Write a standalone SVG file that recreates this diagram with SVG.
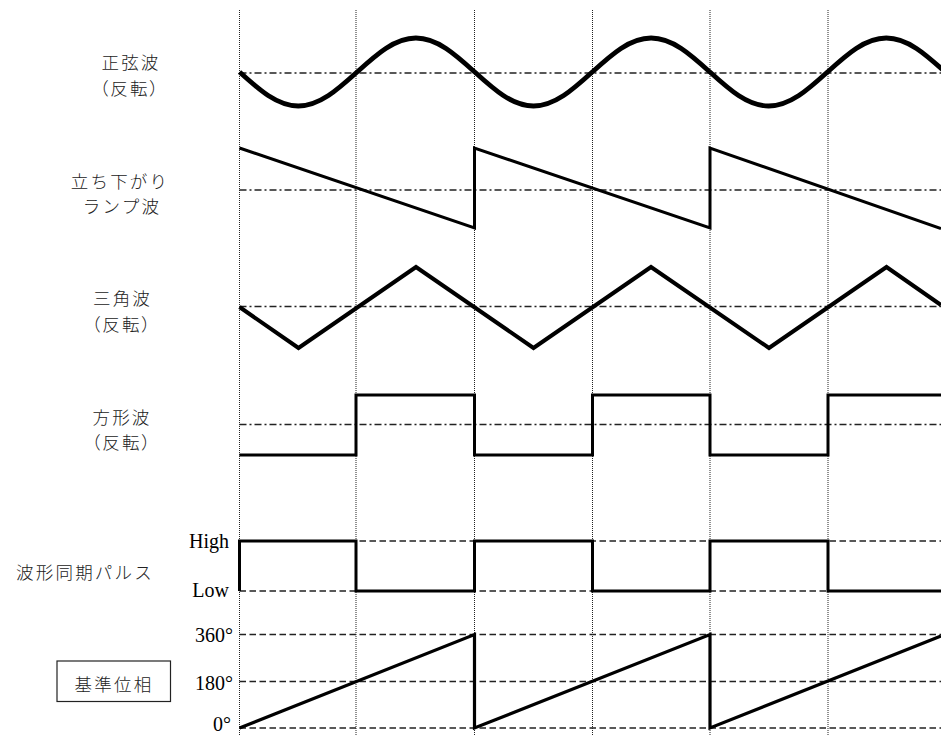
<svg xmlns="http://www.w3.org/2000/svg" width="941" height="735" viewBox="0 0 941 735">
<style>
.bg{fill:#fff}
.vdot{stroke:#222;stroke-width:1;stroke-dasharray:1 1;fill:none}
.dd{stroke:#222;stroke-width:1.3;stroke-dasharray:7 3 2 3;fill:none}
.dash{stroke:#222;stroke-width:1.3;stroke-dasharray:6.5 3.5;fill:none}
.w{stroke:#000;fill:none;stroke-linejoin:miter;stroke-linecap:butt}
.jp{font-family:"Noto Sans CJK JP","Noto Sans",sans-serif;font-size:17.5px;font-weight:300;fill:#222;text-anchor:middle;letter-spacing:2.2px}
.par{font-feature-settings:"palt"}
.sr{font-family:"Liberation Serif","Times New Roman",serif;font-size:20px;fill:#000;text-anchor:end}
</style>
<rect class="bg" x="0" y="0" width="941" height="735"/>
<g id="grid">
<path class="vdot" d="M239.5,10V735M356,10V735M474.5,10V735M592.5,10V735M710,10V735M828,10V735"/>
<path class="dd" d="M239.5,73H941M239.5,190H941M239.5,306.5H941M239.5,424.5H941"/>
<path class="dash" d="M239.5,541H941M239.5,591H941M239.5,634.5H941M239.5,681.5H941M239.5,728H941"/>
</g>
<g id="sine">
<text class="jp" x="131" y="69">正弦波</text>
<text class="jp par" x="130" y="95">（反転）</text>
<path class="w" stroke-width="4.8" d="M239.5,72c19.2,17.4 37.5,34 58.8,34c21.3,0 39.6,-16.6 58.8,-34c19.2,-17.4 37.5,-34 58.8,-34c21.3,0 39.6,16.6 58.8,34c19.2,17.4 37.5,34 58.8,34c21.3,0 39.6,-16.6 58.8,-34c19.2,-17.4 37.5,-34 58.8,-34c21.3,0 39.6,16.6 58.8,34c19.2,17.4 37.5,34 58.8,34c21.3,0 39.6,-16.6 58.8,-34c19.2,-17.4 37.5,-34 58.8,-34c21.3,0 39.6,16.6 58.8,34"/>
</g>
<g id="ramp-down">
<text class="jp" x="120" y="188">立ち下がり</text>
<text class="jp" x="122" y="213">ランプ波</text>
<path class="w" stroke-width="3" d="M239.5,148L474.5,228V148L710,228V148L941,228.5"/>
</g>
<g id="triangle">
<text class="jp" x="122.5" y="305">三角波</text>
<text class="jp par" x="122" y="331">（反転）</text>
<path class="w" stroke-width="4" d="M239.5,307L298.5,348L416,267L533.5,348L651,267L769,348L886.5,267L941,305"/>
</g>
<g id="square">
<text class="jp" x="122" y="424">方形波</text>
<text class="jp par" x="122" y="449">（反転）</text>
<path class="w" stroke-width="3" d="M239.5,455H356V395H474.5V455H592.5V395H710V455H828V395H941"/>
</g>
<g id="sync-pulse">
<text class="jp" x="85" y="579">波形同期パルス</text>
<text class="sr" x="229" y="548">High</text>
<text class="sr" x="229" y="597">Low</text>
<path class="w" stroke-width="3" d="M239.5,591V541H356V591H474.5V541H592.5V591H710V541H828V591H941"/>
</g>
<g id="reference-phase">
<rect x="57" y="661" width="113.5" height="40.5" fill="none" stroke="#222" stroke-width="1.2"/>
<text class="jp" x="114" y="691">基準位相</text>
<text class="sr" x="233" y="642">360°</text>
<text class="sr" x="233" y="690">180°</text>
<text class="sr" x="231" y="731">0°</text>
<path class="w" stroke-width="3.2" d="M239.5,728L474.5,634.5V728L710,634.5V728L941,636"/>
</g>
</svg>
